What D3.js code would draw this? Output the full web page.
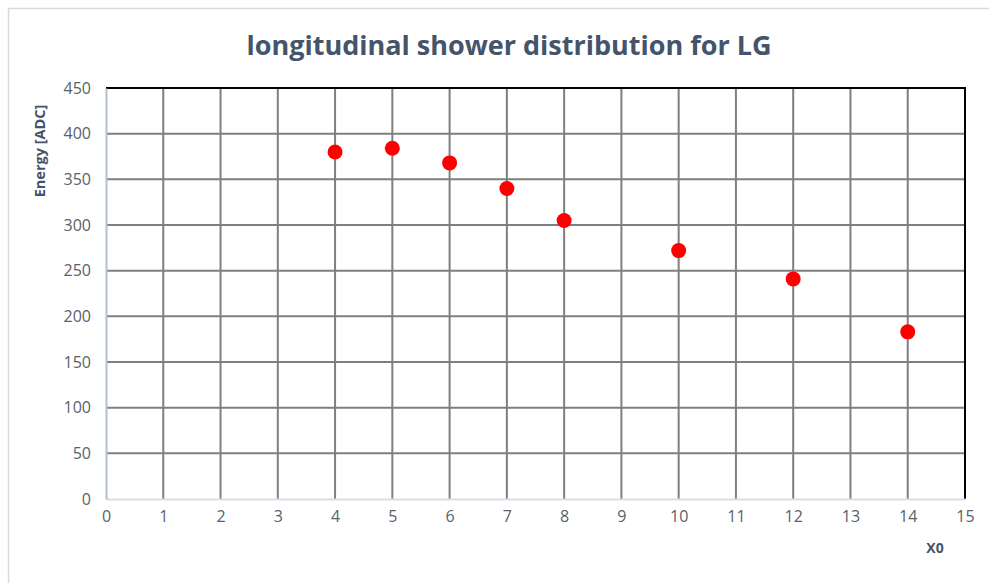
<!DOCTYPE html>
<html>
<head>
<meta charset="utf-8">
<script src="https://cdn.jsdelivr.net/npm/d3@7"></script>
<style>
  body { margin: 0; background: #fff; }
  text { font-family: "Open Sans", "DejaVu Sans", sans-serif; }
</style>
</head>
<body>
<svg id="chart" width="989" height="583"></svg>
<script>
// data
var xValues = [4, 5, 6, 7, 8, 10, 12, 14];
var energy = [380, 384, 368, 340, 305, 272, 241, 183];
var xTicks = d3.range(0, 16, 1);
var yTicks = d3.range(0, 451, 50);

var svg = d3.select("#chart"),
    plotLeft = 106, plotRight = 965, plotTop = 88, plotBottom = 499;

var x = d3.scaleLinear().domain([0, 15]).range([plotLeft, plotRight]);
var y = d3.scaleLinear().domain([0, 450]).range([plotBottom, plotTop]);

// outer chart frame (cropped on right and bottom)
svg.append("rect")
    .attr("x", 8.5).attr("y", 8.5)
    .attr("width", 1000).attr("height", 1000)
    .style("fill", "none")
    .style("stroke", "#d9d9d9")
    .style("stroke-width", 1.5);

svg.append("text")
    .attr("x", 509).attr("y", 55)
    .attr("text-anchor", "middle")
    .style("font-size", "27px")
    .style("font-weight", "bold")
    .style("fill", "#44546a")
    .text("longitudinal shower distribution for LG");

// grid
svg.append("g").selectAll("line")
    .data(yTicks.filter(function (d) { return d > 0 && d < 450; }))
    .enter().append("line")
    .attr("x1", plotLeft).attr("x2", plotRight)
    .attr("y1", function (d) { return y(d); })
    .attr("y2", function (d) { return y(d); })
    .style("stroke", "#7f7f7f").style("stroke-width", 2);

svg.append("g").selectAll("line")
    .data(xTicks.filter(function (d) { return d > 0 && d < 15; }))
    .enter().append("line")
    .attr("y1", plotTop).attr("y2", plotBottom)
    .attr("x1", function (d) { return x(d); })
    .attr("x2", function (d) { return x(d); })
    .style("stroke", "#7f7f7f").style("stroke-width", 2);

// top & right black borders
svg.append("line").attr("x1", plotLeft).attr("x2", plotRight + 1).attr("y1", plotTop).attr("y2", plotTop)
    .style("stroke", "#000").style("stroke-width", 2);
svg.append("line").attr("x1", plotRight).attr("x2", plotRight).attr("y1", plotTop).attr("y2", plotBottom)
    .style("stroke", "#000").style("stroke-width", 2);

// axes
var xAxis = svg.append("g")
    .attr("transform", "translate(0," + plotBottom + ")")
    .call(d3.axisBottom(x).tickValues(xTicks).tickSize(0).tickPadding(12));
xAxis.select(".domain").style("stroke", "#d9dde3").style("stroke-width", 2);

var yAxis = svg.append("g")
    .attr("transform", "translate(" + plotLeft + ",0)")
    .call(d3.axisLeft(y).tickValues(yTicks).tickSize(0).tickPadding(15));
yAxis.select(".domain").style("stroke", "#b4c0cf").style("stroke-width", 2);

svg.selectAll(".tick text")
    .style("font-size", "16px")
    .style("fill", "#595f6b")
    .style("font-family", "\"Open Sans\", sans-serif");

// axis titles
svg.append("text")
    .attr("x", 935).attr("y", 553)
    .attr("text-anchor", "middle")
    .style("font-size", "14px").style("font-weight", "bold")
    .style("fill", "#44546a")
    .text("X0");

svg.append("text")
    .attr("transform", "translate(45,151) rotate(-90)")
    .attr("text-anchor", "middle")
    .style("font-size", "14.5px").style("font-weight", "bold")
    .style("fill", "#44546a")
    .text("Energy [ADC]");

// points
svg.append("g").selectAll("circle")
    .data(xValues)
    .enter().append("circle")
    .attr("cx", function (d) { return x(d); })
    .attr("cy", function (d, i) { return y(energy[i]); })
    .attr("r", 7.5)
    .style("fill", "#ff0000");
</script>
</body>
</html>
